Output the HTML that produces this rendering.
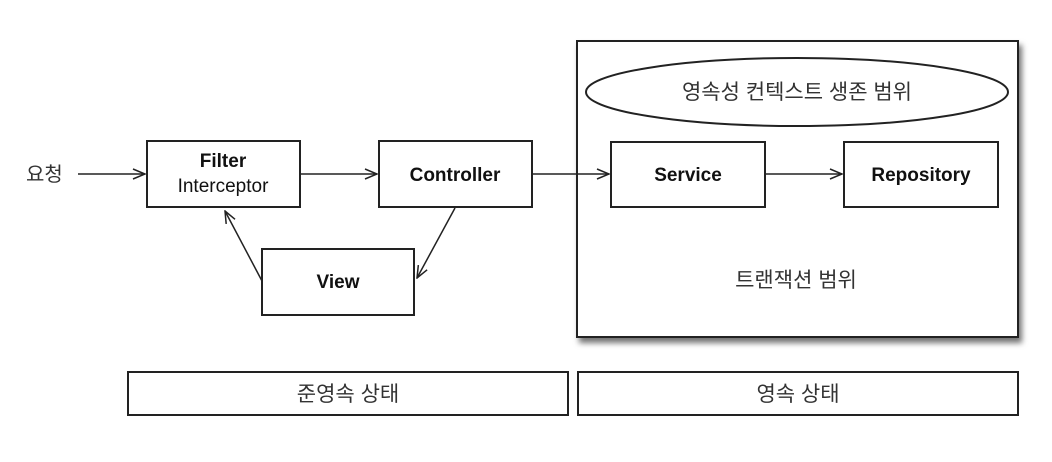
<!DOCTYPE html>
<html><head><meta charset="utf-8"><style>
html,body{margin:0;padding:0;background:#fff;}
svg{display:block;}
text{font-family:"Liberation Sans","Noto Sans CJK KR",sans-serif;fill:#111;}
.b{font-weight:bold;font-size:19px;}
.k{font-size:21px;fill:#333;}
</style></head><body>
<svg width="1052" height="462" viewBox="0 0 1052 462" xmlns="http://www.w3.org/2000/svg">
<defs>
<marker id="a" markerWidth="14" markerHeight="12" refX="13" refY="6" orient="auto" markerUnits="userSpaceOnUse">
<path d="M1,1 L13,6 L1,11" fill="none" stroke="#222" stroke-width="1.5"/>
</marker>
<filter id="s" x="-5%" y="-5%" width="115%" height="115%"><feDropShadow dx="3" dy="5" stdDeviation="3" flood-color="#000" flood-opacity="0.55"/></filter>
</defs>
<g fill="#fff" stroke="#222" stroke-width="2">
<rect x="577" y="41" width="441" height="296" filter="url(#s)"/>
<ellipse cx="797" cy="92" rx="211" ry="34"/>
<rect x="147" y="141" width="153" height="66"/>
<rect x="379" y="141" width="153" height="66"/>
<rect x="262" y="249" width="152" height="66"/>
<rect x="611" y="142" width="154" height="65"/>
<rect x="844" y="142" width="154" height="65"/>
<rect x="128" y="372" width="440" height="43"/>
<rect x="578" y="372" width="440" height="43"/>
</g>
<g stroke="#222" stroke-width="1.5" fill="none" marker-end="url(#a)">
<line x1="78" y1="174" x2="145" y2="174"/>
<line x1="300" y1="174" x2="377" y2="174"/>
<line x1="532" y1="174" x2="609" y2="174"/>
<line x1="765" y1="174" x2="842" y2="174"/>
<line x1="455" y1="208" x2="417" y2="278"/>
<line x1="262" y1="281" x2="225" y2="211"/>
</g>
<text class="k" x="26" y="181" style="font-size:20px">요청</text>
<text class="b" x="223" y="167" text-anchor="middle">Filter</text>
<text class="b" x="223" y="192" text-anchor="middle" style="font-weight:normal;font-size:19px">Interceptor</text>
<text class="b" x="455" y="181" text-anchor="middle">Controller</text>
<text class="b" x="338" y="288" text-anchor="middle">View</text>
<text class="b" x="688" y="181" text-anchor="middle">Service</text>
<text class="b" x="921" y="181" text-anchor="middle">Repository</text>
<text class="k" x="797" y="99" text-anchor="middle">영속성 컨텍스트 생존 범위</text>
<text class="k" x="796" y="287" text-anchor="middle">트랜잭션 범위</text>
<text class="k" x="348" y="401" text-anchor="middle">준영속 상태</text>
<text class="k" x="798" y="401" text-anchor="middle">영속 상태</text>
</svg>
</body></html>
